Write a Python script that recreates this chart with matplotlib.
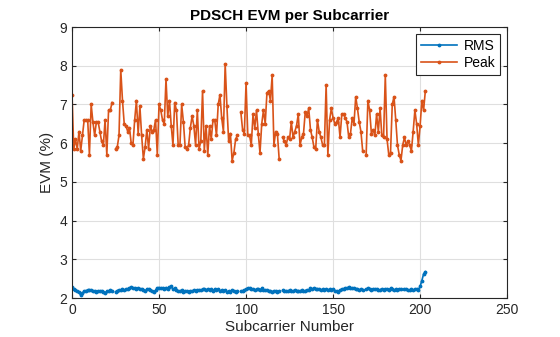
import numpy as np
import matplotlib
matplotlib.use("Agg")
import matplotlib.pyplot as plt

plt.rcParams["font.family"] = ["Liberation Sans", "DejaVu Sans"]

nan = np.nan
# EVM values per subcarrier (%)
rms = [2.29, 2.22, 2.2, 2.17, 2.15, 2.07, 2.12, 2.18, 2.19, 2.2,
       2.21, 2.2, 2.17, 2.18, 2.16, 2.18, 2.17, 2.19, 2.16, 2.14,
       2.17, 2.18, 2.2, 2.19, nan, 2.16, 2.19, 2.21, 2.2, 2.23,
       2.2, 2.22, 2.24, 2.26, 2.28, 2.25, 2.26, 2.24, 2.25, 2.22,
       2.24, 2.2, 2.18, 2.23, 2.22, 2.21, 2.18, 2.16, 2.2, 2.26,
       2.27, 2.25, 2.26, 2.22, 2.27, 2.24, 2.28, 2.3, 2.22, 2.25,
       2.2, 2.18, 2.17, 2.2, 2.16, 2.19, 2.17, 2.15, 2.18, 2.17,
       2.2, 2.18, 2.21, 2.2, 2.2, 2.22, 2.23, 2.2, 2.24, 2.21,
       2.22, 2.19, 2.23, 2.2, 2.22, 2.17, 2.21, 2.19, 2.2, 2.15,
       2.18, 2.16, 2.2, 2.17, 2.15, 2.18, nan, 2.17, 2.19, 2.2,
       2.23, 2.26, 2.25, 2.22, 2.23, 2.21, 2.22, 2.23, 2.21, 2.25,
       2.21, 2.2, 2.21, 2.18, 2.17, 2.16, 2.19, 2.17, 2.15, 2.18,
       nan, 2.2, 2.18, 2.19, 2.17, 2.2, 2.19, 2.18, 2.2, 2.17,
       2.19, 2.18, 2.2, 2.17, 2.19, 2.21, 2.2, 2.25, 2.22, 2.26,
       2.24, 2.22, 2.23, 2.21, 2.22, 2.2, 2.23, 2.21, 2.22, 2.2,
       2.22, 2.19, 2.17, 2.16, 2.2, 2.23, 2.24, 2.26, 2.25, 2.28,
       2.27, 2.25, 2.26, 2.22, 2.24, 2.21, 2.23, 2.2, nan, 2.22,
       2.25, 2.23, 2.2, 2.24, 2.22, 2.23, 2.2, 2.21, 2.24, 2.2,
       2.22, 2.23, 2.21, 2.25, 2.22, 2.2, 2.22, 2.21, 2.24, 2.22,
       nan, 2.22, 2.24, 2.21, 2.2, 2.23, 2.2, 2.22, 2.23, 2.21,
       2.3, 2.45, 2.62, 2.68]

peak = [7.25, 5.85, 6.1, 5.85, 6.3, 5.8, 6.2, 6.6, 6.6, 6.6,
        5.7, 7.0, 6.55, 6.2, 6.55, 6.55, 6.3, 6.05, 5.95, 6.6,
        5.7, 6.85, 6.85, 7.05, nan, 5.85, 5.9, 6.2, 7.9, 7.1,
        6.5, 6.45, 6.3, 6.4, 6.0, 5.95, 6.6, 7.1, 6.25, 6.95,
        6.2, 5.6, 5.9, 6.35, 5.85, 6.45, 6.3, 6.35, 6.6, 5.7,
        7.0, 6.85, 6.6, 6.5, 7.65, 6.7, 7.1, 6.45, 5.95, 7.05,
        6.85, 5.95, 5.95, 7.0, 6.55, 5.9, 5.85, 5.95, 6.4, 6.7,
        6.45, 5.95, 6.85, 5.85, 6.05, 7.35, 5.8, 6.45, 5.7, 6.45,
        6.1, 6.6, 6.6, 6.2, 7.0, 7.25, 6.65, 6.3, 8.05, 6.95,
        6.05, 6.25, 5.55, 5.75, 6.1, 6.2, nan, 6.8, 6.35, 6.25,
        7.55, 6.2, 6.2, 5.95, 6.75, 6.4, 6.85, 6.25, 5.75, 6.5,
        6.85, 6.5, 7.3, 7.35, 7.1, 7.75, 5.95, 6.3, 6.25, 5.6,
        nan, 6.15, 6.05, 5.95, 6.15, 6.1, 6.55, 6.15, 6.3, 6.45,
        6.75, 5.95, 6.15, 6.25, 6.8, 6.7, 6.9, 6.35, 6.15, 5.9,
        5.85, 6.6, 6.3, 6.15, 5.95, 5.95, 7.5, 5.7, 6.6, 6.9,
        6.65, 6.5, 6.55, 6.65, 6.15, 6.75, 6.75, 6.65, 6.55, 6.15,
        6.25, 6.65, 6.5, 7.2, 6.9, 6.55, 6.3, 5.8, nan, 5.7,
        7.1, 6.85, 6.25, 6.35, 6.2, 6.75, 6.3, 6.9, 6.2, 6.15,
        7.75, 6.1, 5.7, 5.75, 7.0, 7.2, 6.6, 5.95, 5.7, 5.55,
        5.95, 6.15, 5.95, 6.05, 5.95, 5.8, 6.3, 6.85, 6.5, 5.95,
        6.45, 7.1, 6.85, 7.35]

subcarrier = np.arange(len(rms))

fig = plt.figure(figsize=(5.6, 3.37), dpi=100)
ax = fig.add_axes([0.1286, 0.1157, 0.777, 0.804])

ax.plot(subcarrier, rms, ".-", color="#0072BD", lw=1.2, ms=3.5, label="RMS")
ax.plot(subcarrier, peak, ".-", color="#D95319", lw=1.2, ms=3.5, label="Peak")

ax.set_xlim(0, 250)
ax.set_ylim(2, 9)
ax.set_xticks(range(0, 251, 50))
ax.set_yticks(range(2, 10))
ax.grid(True, color="#dfdfdf", lw=0.8)
ax.set_axisbelow(True)
ax.tick_params(direction="in", length=3, labelsize=10, colors="#262626",
               top=True, right=True)
for s in ax.spines.values():
    s.set_color("#262626")
    s.set_linewidth(0.8)

ax.set_xlabel("Subcarrier Number", fontsize=11, color="#262626", labelpad=2)
ax.set_ylabel("EVM (%)", fontsize=11, color="#262626", labelpad=4)
ax.set_title("PDSCH EVM per Subcarrier", fontsize=11, fontweight="bold", pad=5)

leg = ax.legend(loc="upper right", fontsize=10, fancybox=False,
                edgecolor="#262626", framealpha=1, handlelength=2.6,
                borderaxespad=0.5, labelspacing=0.25, borderpad=0.35,
                handletextpad=0.5, markerscale=1.0)
leg.get_frame().set_linewidth(0.8)

fig.savefig("out.png", dpi=100)
